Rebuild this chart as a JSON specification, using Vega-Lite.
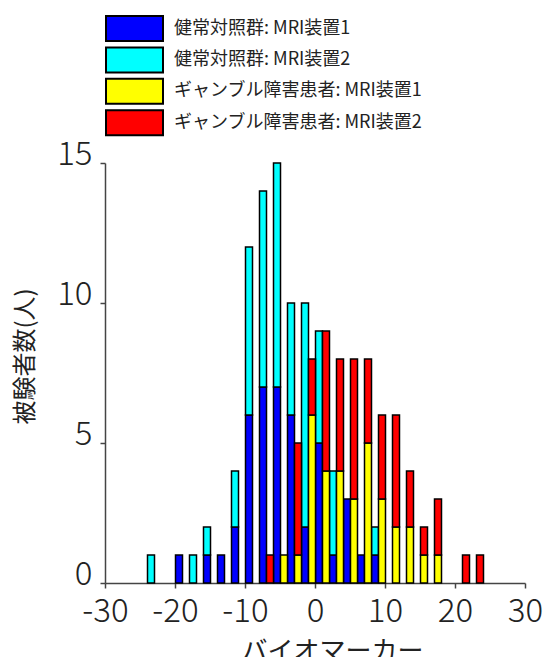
{
  "$schema": "https://vega.github.io/schema/vega-lite/v6.json",
  "width": 420,
  "height": 420,
  "autosize": {"type": "none"},
  "padding": {"left": 105, "top": 163, "right": 23, "bottom": 74},
  "background": "white",
  "config": {"view": {"stroke": null}, "font": "Noto Sans CJK JP"},
  "layer": [
    {
      "mark": {"type": "rule", "strokeDash": [7, 5], "color": "#444", "strokeWidth": 1.5},
      "encoding": {"x": {"datum": 0, "type": "quantitative"}}
    },
    {
      "data": {
        "values": [
          {"lo": -24, "hi": -23, "series": "健常対照群: MRI装置2", "n": 1},
          {"lo": -20, "hi": -19, "series": "健常対照群: MRI装置1", "n": 1},
          {"lo": -18, "hi": -17, "series": "健常対照群: MRI装置2", "n": 1},
          {"lo": -16, "hi": -15, "series": "健常対照群: MRI装置1", "n": 1},
          {"lo": -16, "hi": -15, "series": "健常対照群: MRI装置2", "n": 1},
          {"lo": -14, "hi": -13, "series": "健常対照群: MRI装置1", "n": 1},
          {"lo": -12, "hi": -11, "series": "健常対照群: MRI装置1", "n": 2},
          {"lo": -12, "hi": -11, "series": "健常対照群: MRI装置2", "n": 2},
          {"lo": -10, "hi": -9, "series": "健常対照群: MRI装置1", "n": 6},
          {"lo": -10, "hi": -9, "series": "健常対照群: MRI装置2", "n": 6},
          {"lo": -8, "hi": -7, "series": "健常対照群: MRI装置1", "n": 7},
          {"lo": -8, "hi": -7, "series": "健常対照群: MRI装置2", "n": 7},
          {"lo": -6, "hi": -5, "series": "健常対照群: MRI装置1", "n": 7},
          {"lo": -6, "hi": -5, "series": "健常対照群: MRI装置2", "n": 8},
          {"lo": -4, "hi": -3, "series": "健常対照群: MRI装置1", "n": 6},
          {"lo": -4, "hi": -3, "series": "健常対照群: MRI装置2", "n": 4},
          {"lo": -2, "hi": -1, "series": "健常対照群: MRI装置1", "n": 2},
          {"lo": -2, "hi": -1, "series": "健常対照群: MRI装置2", "n": 8},
          {"lo": 0, "hi": 1, "series": "健常対照群: MRI装置1", "n": 5},
          {"lo": 0, "hi": 1, "series": "健常対照群: MRI装置2", "n": 4},
          {"lo": 2, "hi": 3, "series": "健常対照群: MRI装置1", "n": 1},
          {"lo": 2, "hi": 3, "series": "健常対照群: MRI装置2", "n": 3},
          {"lo": 4, "hi": 5, "series": "健常対照群: MRI装置1", "n": 3},
          {"lo": 6, "hi": 7, "series": "健常対照群: MRI装置1", "n": 1},
          {"lo": 8, "hi": 9, "series": "健常対照群: MRI装置1", "n": 1},
          {"lo": 8, "hi": 9, "series": "健常対照群: MRI装置2", "n": 1},
          {"lo": -7, "hi": -6, "series": "ギャンブル障害患者: MRI装置2", "n": 1},
          {"lo": -5, "hi": -4, "series": "ギャンブル障害患者: MRI装置1", "n": 1},
          {"lo": -3, "hi": -2, "series": "ギャンブル障害患者: MRI装置1", "n": 1},
          {"lo": -3, "hi": -2, "series": "ギャンブル障害患者: MRI装置2", "n": 4},
          {"lo": -1, "hi": 0, "series": "ギャンブル障害患者: MRI装置1", "n": 6},
          {"lo": -1, "hi": 0, "series": "ギャンブル障害患者: MRI装置2", "n": 2},
          {"lo": 1, "hi": 2, "series": "ギャンブル障害患者: MRI装置1", "n": 4},
          {"lo": 1, "hi": 2, "series": "ギャンブル障害患者: MRI装置2", "n": 5},
          {"lo": 3, "hi": 4, "series": "ギャンブル障害患者: MRI装置1", "n": 4},
          {"lo": 3, "hi": 4, "series": "ギャンブル障害患者: MRI装置2", "n": 4},
          {"lo": 5, "hi": 6, "series": "ギャンブル障害患者: MRI装置1", "n": 3},
          {"lo": 5, "hi": 6, "series": "ギャンブル障害患者: MRI装置2", "n": 5},
          {"lo": 7, "hi": 8, "series": "ギャンブル障害患者: MRI装置1", "n": 5},
          {"lo": 7, "hi": 8, "series": "ギャンブル障害患者: MRI装置2", "n": 3},
          {"lo": 9, "hi": 10, "series": "ギャンブル障害患者: MRI装置1", "n": 3},
          {"lo": 9, "hi": 10, "series": "ギャンブル障害患者: MRI装置2", "n": 3},
          {"lo": 11, "hi": 12, "series": "ギャンブル障害患者: MRI装置1", "n": 2},
          {"lo": 11, "hi": 12, "series": "ギャンブル障害患者: MRI装置2", "n": 4},
          {"lo": 13, "hi": 14, "series": "ギャンブル障害患者: MRI装置1", "n": 2},
          {"lo": 13, "hi": 14, "series": "ギャンブル障害患者: MRI装置2", "n": 2},
          {"lo": 15, "hi": 16, "series": "ギャンブル障害患者: MRI装置1", "n": 1},
          {"lo": 15, "hi": 16, "series": "ギャンブル障害患者: MRI装置2", "n": 1},
          {"lo": 17, "hi": 18, "series": "ギャンブル障害患者: MRI装置1", "n": 1},
          {"lo": 17, "hi": 18, "series": "ギャンブル障害患者: MRI装置2", "n": 2},
          {"lo": 21, "hi": 22, "series": "ギャンブル障害患者: MRI装置2", "n": 1},
          {"lo": 23, "hi": 24, "series": "ギャンブル障害患者: MRI装置2", "n": 1}
        ]
      },
      "mark": {"type": "bar", "stroke": "black", "strokeWidth": 1.5, "binSpacing": 0},
      "encoding": {
        "x": {
          "field": "lo",
          "type": "quantitative",
          "bin": "binned",
          "scale": {"domain": [-30, 30], "nice": false},
          "axis": {
            "values": [-30, -20, -10, 0, 10, 20, 30],
            "labelExpr": "'' + datum.value",
            "title": "バイオマーカー",
            "titleFontSize": 26,
            "titleFontWeight": "normal",
            "titleColor": "#222",
            "titlePadding": 10,
            "titleX": 227,
            "titleAnchor": "middle",
            "labelFontSize": 33,
            "labelFontWeight": 300,
            "labelColor": "#222",
            "labelPadding": 7,
            "labelFlush": false,
            "labelOverlap": false,
            "tickSize": 5,
            "tickColor": "#444",
            "domainColor": "#444",
            "domainWidth": 1.5,
            "tickWidth": 1.5,
            "grid": false
          }
        },
        "x2": {"field": "hi"},
        "y": {
          "field": "n",
          "type": "quantitative",
          "stack": "zero",
          "scale": {"domain": [0, 15], "nice": false},
          "axis": {
            "values": [0, 5, 10, 15],
            "title": "被験者数(人)",
            "titleFontSize": 24,
            "titleFontWeight": "normal",
            "titleColor": "#222",
            "titleX": -80,
            "titleY": 193,
            "titleBaseline": "middle",
            "titleAlign": "center",
            "titleAngle": -90,
            "labelFontSize": 33,
            "labelFontWeight": 300,
            "labelColor": "#222",
            "labelPadding": 8,
            "labelOffset": -9,
            "labelFlush": false,
            "tickSize": 5,
            "tickColor": "#444",
            "domainColor": "#444",
            "domainWidth": 1.5,
            "tickWidth": 1.5,
            "grid": false
          }
        },
        "color": {
          "field": "series",
          "type": "nominal",
          "scale": {
            "domain": ["健常対照群: MRI装置1", "健常対照群: MRI装置2", "ギャンブル障害患者: MRI装置1", "ギャンブル障害患者: MRI装置2"],
            "range": ["#0000ff", "#00ffff", "#ffff00", "#ff0000"]
          },
          "legend": {
            "orient": "none",
            "legendX": 16,
            "legendY": -148,
            "direction": "vertical",
            "title": null,
            "padding": 0,
            "symbolType": "M-2.28,-1H2.28V1H-2.28Z",
            "symbolSize": 625,
            "symbolStrokeColor": "black",
            "symbolStrokeWidth": 2,
            "symbolOpacity": 1,
            "labelFontSize": 18,
            "labelColor": "#222",
            "labelOffset": 26,
            "labelLimit": 0,
            "rowPadding": -1.6
          }
        },
        "order": {"field": "series", "sort": "ascending"}
      }
    }
  ]
}
